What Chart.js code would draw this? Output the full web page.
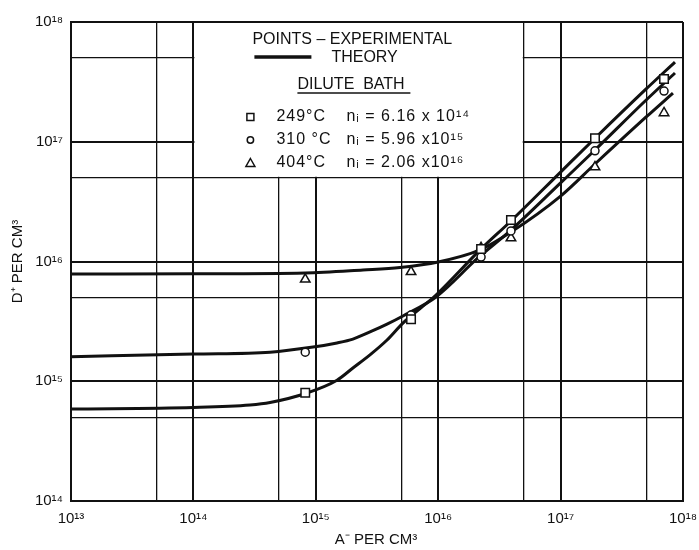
<!DOCTYPE html>
<html lang="en">
<head>
    <meta charset="UTF-8">
    <title>D+ vs A- per cm3</title>
    <style>
        body {
            margin: 0;
            padding: 0;
            background-color: white;
        }
        canvas {
            display: block;
        }
    </style>
    <script src="https://cdn.jsdelivr.net/npm/chart.js"></script>
</head>
<body>

<canvas id="dChart" width="699" height="550"></canvas>

<script>
    // Grid / tick positions (decades plus the 5x lines)
    const xTicks = [1e13, 5e13, 1e14, 5e14, 1e15, 5e15, 1e16, 5e16, 1e17, 5e17, 1e18];
    const yTicks = [1e14, 5e14, 1e15, 5e15, 1e16, 5e16, 1e17, 5e17, 1e18];

    // Experimental points (A- per cm3 on x)
    const expX   = [8.2e14, 6.0e15, 2.24e16, 3.93e16, 1.91e17, 7.0e17];
    const exp249 = [8.0e14, 3.3e15, 1.27e16, 2.22e16, 1.07e17, 3.34e17];
    const exp310 = [1.75e15, 3.57e15, 1.09e16, 1.8e16, 8.4e16, 2.65e17];
    const exp404 = [7.1e15, 8.2e15, 1.3e16, 1.57e16, 6.15e16, 1.74e17];

    // Theory curves
    const theoryX249 = [1e13, 1e14, 2.9e14, 4.23e14, 8.47e14, 1.49e15, 2.01e15, 2.77e15, 3.82e15, 5.15e15, 9.6e15, 2.2e16, 3.93e16, 1e17, 1.91e17, 5e17, 8.6e17];
    const theory249  = [5.86e14, 6.04e14, 6.34e14, 6.65e14, 7.98e14, 1.02e15, 1.29e15, 1.66e15, 2.21e15, 3.06e15, 5.25e15, 1.25e16, 2.18e16, 5.58e16, 1.07e17, 2.76e17, 4.63e17];
    const theoryX310 = [1e13, 1e14, 4.23e14, 9.5e14, 1.49e15, 2.01e15, 2.77e15, 3.82e15, 5.15e15, 9.6e15, 2.11e16, 3.93e16, 1e17, 1.91e17, 5e17, 8.6e17];
    const theory310  = [1.6e15, 1.69e15, 1.75e15, 1.93e15, 2.09e15, 2.25e15, 2.58e15, 3.0e15, 3.51e15, 5.06e15, 1.07e16, 1.83e16, 4.53e16, 8.53e16, 2.23e17, 3.75e17];
    const theoryX404 = [1e13, 1e14, 8.17e14, 2.43e15, 4.88e15, 1e16, 2.2e16, 3.93e16, 1e17, 1.91e17, 5e17, 8.28e17];
    const theory404  = [7.87e15, 7.9e15, 8.02e15, 8.49e15, 8.9e15, 9.9e15, 1.25e16, 1.76e16, 3.52e16, 6.52e16, 1.61e17, 2.55e17];

    const supDigits = {'0':'⁰','1':'¹','2':'²','3':'³','4':'⁴','5':'⁵','6':'⁶','7':'⁷','8':'⁸','9':'⁹'};
    function sup(n) {
        return String(n).split('').map(c => supDigits[c]).join('');
    }
    function isDecade(v) {
        const e = Math.log10(v);
        return Math.abs(e - Math.round(e)) < 1e-6;
    }
    function pts(xs, ys) {
        return xs.map((x, i) => ({x: x, y: ys[i]}));
    }

    const ink = '#111';
    const font = "'Liberation Sans', Arial, sans-serif";

    // white legend box over the grid + legend text, axis titles
    const paperPlugin = {
        id: 'paper',
        beforeDatasetsDraw(chart) {
            const c = chart.ctx, xs = chart.scales.x, ys = chart.scales.y;
            const l = xs.getPixelForValue(1e14), r = xs.getPixelForValue(5e16);
            const t = ys.getPixelForValue(1e18), b = ys.getPixelForValue(5e16);
            c.save();
            c.fillStyle = 'white';
            c.fillRect(l + 1, t + 1, r - l - 2, b - t - 2);
            c.restore();
        },
        afterDraw(chart) {
            const c = chart.ctx, xs = chart.scales.x, ys = chart.scales.y;
            const L = xs.getPixelForValue(1e14), T = ys.getPixelForValue(1e18);
            c.save();
            c.fillStyle = ink;
            c.strokeStyle = ink;
            c.textBaseline = 'middle';
            c.textAlign = 'left';
            c.font = '16px ' + font;
            c.fillText('POINTS – EXPERIMENTAL', L + 59, T + 18);
            c.lineWidth = 3.5;
            c.beginPath();
            c.moveTo(L + 61, T + 35);
            c.lineTo(L + 118, T + 35);
            c.stroke();
            c.fillText('THEORY', L + 138, T + 36);
            c.fillText('DILUTE  BATH', L + 104, T + 63);
            c.lineWidth = 1.5;
            c.beginPath();
            c.moveTo(L + 104, T + 71);
            c.lineTo(L + 217, T + 71);
            c.stroke();

            const rows = [
                ['249°C', 'nᵢ = 6.16 x 10¹⁴', 'rect'],
                ['310 °C', 'nᵢ = 5.96 x10¹⁵', 'circle'],
                ['404°C', 'nᵢ = 2.06 x10¹⁶', 'triangle']
            ];
            c.letterSpacing = '1px';
            rows.forEach((row, i) => {
                const y = T + 95 + i * 23;
                const ix = L + 57;
                c.lineWidth = 1.5;
                c.beginPath();
                if (row[2] === 'rect') {
                    c.rect(ix - 3.5, y - 3.5, 7, 7);
                } else if (row[2] === 'circle') {
                    c.arc(ix, y, 3.2, 0, Math.PI * 2);
                } else {
                    c.moveTo(ix, y - 4.5);
                    c.lineTo(ix + 4.5, y + 3.5);
                    c.lineTo(ix - 4.5, y + 3.5);
                    c.closePath();
                }
                c.stroke();
                c.fillText(row[0], L + 83, y);
                c.fillText(row[1], L + 153, y);
            });
            c.letterSpacing = '0px';

            // axis titles
            c.font = '15px ' + font;
            c.textAlign = 'center';
            c.fillText('A⁻ PER CM³', (chart.chartArea.left + chart.chartArea.right) / 2 - 1, 540);
            c.translate(18, (chart.chartArea.top + chart.chartArea.bottom) / 2);
            c.rotate(-Math.PI / 2);
            c.fillText('D⁺ PER CM³', 0, 0);
            c.restore();
        }
    };

    function axis(min, max, ticks, isX) {
        return {
            type: 'logarithmic',
            min: min,
            max: max,
            afterBuildTicks: (scale) => {
                scale.ticks = ticks.map(v => ({value: v}));
            },
            afterFit: (scale) => {
                if (isX) {
                    scale.height = 49;
                    scale.paddingLeft = 0;
                    scale.paddingRight = 0;
                } else {
                    scale.width = 71;
                    scale.paddingTop = 0;
                    scale.paddingBottom = 0;
                }
            },
            grid: {
                color: ink,
                lineWidth: (ctx) => (ctx.tick && isDecade(ctx.tick.value)) ? 2 : 1.3,
                drawTicks: false
            },
            border: {display: true, color: ink, width: 2},
            ticks: {
                color: ink,
                font: {family: font, size: 15},
                padding: isX ? 9 : 8,
                maxRotation: 0,
                autoSkip: false,
                callback: (v) => isDecade(v) ? '10' + sup(Math.round(Math.log10(v))) : ''
            }
        };
    }

    const markerBase = {
        showLine: false,
        borderColor: ink,
        backgroundColor: 'white',
        borderWidth: 1.5
    };
    const curveBase = {
        showLine: true,
        pointRadius: 0,
        borderColor: ink,
        borderWidth: 3,
        cubicInterpolationMode: 'monotone',
        fill: false
    };

    const ctx = document.getElementById('dChart').getContext('2d');
    const dChart = new Chart(ctx, {
        type: 'scatter',
        data: {
            datasets: [
                Object.assign({label: '249 C points', data: pts(expX, exp249), pointStyle: 'rect', pointRadius: 6}, markerBase),
                Object.assign({label: '310 C points', data: pts(expX, exp310), pointStyle: 'circle', pointRadius: 4}, markerBase),
                Object.assign({label: '404 C points', data: pts(expX, exp404), pointStyle: 'triangle', pointRadius: 5.5}, markerBase),
                Object.assign({label: '249 C theory', data: pts(theoryX249, theory249)}, curveBase),
                Object.assign({label: '310 C theory', data: pts(theoryX310, theory310)}, curveBase),
                Object.assign({label: '404 C theory', data: pts(theoryX404, theory404)}, curveBase)
            ]
        },
        options: {
            responsive: false,
            animation: false,
            layout: {padding: {top: 22, right: 16, bottom: 0, left: 0}},
            scales: {
                x: axis(1e13, 1e18, xTicks, true),
                y: axis(1e14, 1e18, yTicks, false)
            },
            plugins: {
                legend: {display: false},
                tooltip: {enabled: false}
            }
        },
        plugins: [paperPlugin]
    });
</script>

</body>
</html>
